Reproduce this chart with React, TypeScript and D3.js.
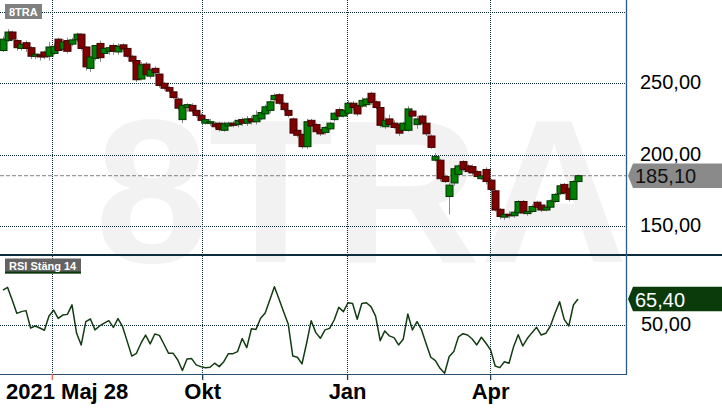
import { useEffect, useRef } from "react"
import * as d3 from "d3"

const symbol = "8TRA"
const rsiTitle = "RSI Stäng 14"
const startLabel = "2021 Maj 28"

// one candle per two sessions, 2021-05-28 .. 2022-05-27
const opens = [
  273, 280, 286, 280, 274.5, 278.5, 275, 269, 270, 272,
  269, 271, 281, 274, 280, 277.5, 280.5, 284.5, 275.5, 260.5,
  267.5, 278, 271, 272.5, 276.5, 272, 277, 274.5, 269, 266,
  253, 263.5, 255, 260.5, 256.5, 250, 247, 244, 239, 224.5,
  233, 234.5, 231, 227.5, 222, 222, 221.5, 222, 217, 220,
  222, 221, 224.5, 222, 225, 223, 225, 228.5, 231, 238.5,
  242, 236, 231, 225, 217, 214, 205.5, 224, 221, 217.5,
  215.5, 218, 224.5, 231.5, 227, 229, 236, 234.5, 234, 235,
  243, 237, 233, 219.5, 225, 222, 221, 217, 217, 230.5,
  221, 227, 222, 213, 196, 196, 184.5, 170.5, 180, 186,
  195, 192, 191.5, 188, 183, 189.5, 182, 174.5, 161.5, 156,
  158, 157, 159, 167, 158.5, 160, 166.5, 164.5, 161, 163,
  167, 172.5, 179, 176, 168.5, 181,
]
const closes = [
  281, 286, 281, 275, 277.5, 274.5, 269, 270.5, 268.5, 268.5,
  275.5, 276, 273, 279, 272.5, 280.5, 284.5, 274.5, 261.5, 268.5,
  276.5, 268, 274.5, 275, 272.5, 276, 274, 269, 265.5, 252.5,
  263, 256, 259.5, 257.5, 248.5, 246.5, 244.5, 240, 232.5, 234.5,
  235, 230.5, 227.5, 224, 224.5, 223, 219.5, 217.5, 221.5, 222,
  220.5, 224, 222, 225, 223, 227.5, 229.5, 233.5, 237, 241.5,
  236, 231.5, 227.5, 215, 213.5, 205.5, 223, 220, 216, 214.5,
  219, 222, 229, 227, 231, 236, 233, 228.5, 238, 239,
  236.5, 233, 220.5, 224, 221, 219, 215, 222, 232, 227,
  225, 222, 214.5, 205, 198.5, 183, 181, 178.5, 190, 192,
  189.5, 188, 187, 184.5, 185, 181, 175.5, 161, 156.5, 158,
  157, 159.5, 167, 159, 160, 163.5, 163, 161, 163, 167.5,
  172, 178, 173, 168.5, 181, 185.1,
]
const highs = [
  283, 288, 287, 281, 279, 280, 276, 272, 272, 273,
  279, 278, 282, 281, 282, 282, 285.5, 285, 276, 270,
  277, 280, 275, 277, 278, 278, 278, 276, 270, 267,
  265, 265, 261, 262, 258, 251, 248, 245, 240, 237,
  236, 236, 232, 229, 226, 225, 223, 223, 223, 223,
  223.5, 225, 226, 227, 227, 231, 231, 235, 238, 243,
  243, 237, 232, 226, 218, 215, 225, 225, 222, 218,
  220, 223, 230, 233, 232, 238, 237.5, 236, 240, 240,
  244, 238, 234, 226, 228, 224, 222, 223, 234, 232,
  227, 228, 223, 214, 201, 197, 186, 180, 191, 193,
  196, 193, 193, 189, 186, 191, 183, 175.5, 162.5, 159,
  160, 161, 168, 168, 161, 165, 167.5, 166, 164, 168.5,
  173, 179.5, 180, 177, 182, 186,
]
const lows = [
  272, 279, 280, 273, 273, 272, 267, 267, 266, 267,
  266, 270, 271, 272, 271, 276, 279, 273, 259, 258,
  266, 265, 269, 270, 270, 270, 272, 268, 264, 251,
  252, 255, 253, 255, 247, 245, 243, 239, 231, 222,
  230, 229, 226, 222, 221, 220, 218, 216, 216, 218,
  219, 219, 220, 220, 221, 221, 224, 227, 229, 237,
  235, 230, 226, 213, 212, 204, 204, 218, 215, 213,
  214, 217, 223, 226, 226, 228, 231, 227, 233, 233,
  235, 232, 219, 218, 220, 218, 213, 215, 216, 225,
  218, 221, 213, 204, 195, 181, 180, 158, 178, 185,
  188, 187, 185, 183, 182, 179, 174, 160, 154.5, 154,
  155, 155.5, 158, 158, 157, 159, 161, 159.5, 160, 162,
  166, 171.5, 172, 167, 168, 180.5,
]
const rsi = [
  70.6, 72.2, 64.8, 57, 58, 58.6, 48.4, 49.6, 48.4, 47.1,
  55.4, 58.9, 54, 56, 56.4, 62, 45.3, 38.5, 52.1, 53.7,
  47.3, 49.6, 51.3, 52.7, 48.8, 53.9, 49.2, 40.6, 32, 33.6,
  39.5, 44.3, 39.1, 44.9, 44.1, 38.9, 33.6, 33.6, 29.7, 23.5,
  30.3, 30.5, 26.8, 25.8, 25.2, 25.4, 27.8, 25.8, 28.7, 33.4,
  33.4, 34.6, 42.2, 36.9, 48, 47.6, 54.1, 57.2, 64.8, 72.6,
  65.4, 58, 50.8, 32, 31.3, 27.4, 39.5, 52.7, 45.7, 42.4,
  47.3, 48.2, 53.1, 60.5, 58, 63.2, 62.8, 53.5, 62.8, 63.2,
  60.9, 55.4, 41, 46.7, 43.8, 42.8, 38.5, 41.8, 56.6, 47.3,
  52.1, 47.3, 39.1, 31.3, 29.3, 24.8, 21.9, 31.7, 34.6, 43.2,
  45.1, 44.3, 42, 38.5, 43, 39.5, 35.6, 26.2, 25.2, 28.7,
  27.8, 37.5, 44.5, 37.9, 42.4, 45.7, 48.8, 44.3, 45.3, 49.6,
  57, 63.8, 53.5, 49.6, 61.9, 65.4,
]

const priceGrid = [150, 200, 250, 300]
const priceLabels = [150, 200, 250]
const rsiGrid = [50]
const lastPrice = 185.1
const lastRsi = 65.4
// month boundaries, in candle index units
const monthTicks = [10.6, 43.3, 74.8, 105.9]
const monthLabels = ["", "Okt", "Jan", "Apr"]

const W = 722
const H = 410
const plotRight = 627
const sepY = 255
const rsiBottom = 374
const font = "'Liberation Sans', Arial, sans-serif"
const fmt = (v: number) => v.toFixed(2).replace(".", ",")

export default function App() {
  const svgRef = useRef<SVGSVGElement>(null)

  useEffect(() => {
    if (!svgRef.current) return
    const svg = d3.select(svgRef.current)
    svg.selectAll("*").remove()
    svg.attr("font-family", font)

    const x = d3.scaleLinear().domain([0, closes.length - 1]).range([3, 578])
    const y = d3.scaleLinear().domain([150, 250]).range([225.7, 83.3])
    const yR = d3.scaleLinear().domain([50, 65.4]).range([325.3, 299])

    const defs = svg.append("defs")
    defs.append("clipPath").attr("id", "plotClip")
      .append("rect").attr("x", 0).attr("y", 0).attr("width", plotRight).attr("height", rsiBottom)
    defs.append("clipPath").attr("id", "priceClip")
      .append("rect").attr("x", 0).attr("y", 0).attr("width", plotRight).attr("height", sepY)

    // watermark
    svg.append("text")
      .attr("clip-path", "url(#plotClip)")
      .attr("x", 95).attr("y", 262)
      .attr("font-size", 204).attr("font-weight", "bold")
      .attr("fill", "#f2f2f2")
      .text(symbol)

    // grid
    const grid = svg.append("g").attr("stroke", "#0b2b3b").attr("stroke-dasharray", "1,1").attr("stroke-width", 1)
    grid.selectAll("line.h").data(priceGrid).join("line").attr("class", "h")
      .attr("x1", 0).attr("x2", plotRight)
      .attr("y1", (d) => Math.round(y(d)) + 0.5).attr("y2", (d) => Math.round(y(d)) + 0.5)
    grid.selectAll("line.r").data(rsiGrid).join("line").attr("class", "r")
      .attr("x1", 0).attr("x2", plotRight)
      .attr("y1", (d) => Math.round(yR(d)) + 0.5).attr("y2", (d) => Math.round(yR(d)) + 0.5)
    grid.selectAll("line.v").data(monthTicks).join("line").attr("class", "v")
      .attr("x1", (d) => Math.round(x(d)) + 0.5).attr("x2", (d) => Math.round(x(d)) + 0.5)
      .attr("y1", 0).attr("y2", rsiBottom)

    // last price line
    svg.append("line")
      .attr("x1", 0).attr("x2", plotRight)
      .attr("y1", y(lastPrice)).attr("y2", y(lastPrice))
      .attr("stroke", "#808080").attr("stroke-dasharray", "4,2")

    // candles
    const candles = svg.append("g").attr("clip-path", "url(#priceClip)")
      .selectAll("g").data(closes.map((c, i) => ({ i, o: opens[i], c, h: highs[i], l: lows[i] })))
      .join("g")
    candles.append("line")
      .attr("x1", (d) => Math.round(x(d.i)) + 0.5).attr("x2", (d) => Math.round(x(d.i)) + 0.5)
      .attr("y1", (d) => y(d.h)).attr("y2", (d) => y(d.l))
      .attr("stroke", "#8c8c8c")
    candles.append("rect")
      .attr("x", (d) => Math.round(x(d.i)) - 3)
      .attr("width", 7)
      .attr("y", (d) => y(Math.max(d.o, d.c)))
      .attr("height", (d) => Math.max(1.5, Math.abs(y(d.o) - y(d.c))))
      .attr("fill", (d) => (d.c >= d.o ? "#008000" : "#800000"))
      .attr("stroke", (d) => (d.c >= d.o ? "#003300" : "#400000"))
      .attr("stroke-width", 1)

    // RSI line
    const line = d3.line<number>().x((_, i) => x(i)).y((d) => yR(d))
    svg.append("path").datum(rsi)
      .attr("fill", "none").attr("stroke", "#123c12").attr("stroke-width", 1.5)
      .attr("stroke-linejoin", "round")
      .attr("d", line)

    // frame
    svg.append("line").attr("x1", 0).attr("x2", W).attr("y1", sepY).attr("y2", sepY)
      .attr("stroke", "#0d2d3d").attr("stroke-width", 2)
    svg.append("line").attr("x1", plotRight - 0.5).attr("x2", plotRight - 0.5).attr("y1", 0).attr("y2", rsiBottom)
      .attr("stroke", "#2b5b8b").attr("stroke-width", 1.3)
    svg.append("line").attr("x1", 0).attr("x2", plotRight).attr("y1", rsiBottom + 0.5).attr("y2", rsiBottom + 0.5)
      .attr("stroke", "#2b5070").attr("stroke-width", 1)

    // time axis
    const axis = svg.append("g").attr("transform", `translate(0,${rsiBottom})`)
      .call(
        d3.axisBottom(x)
          .tickValues(monthTicks)
          .tickFormat((_, i) => monthLabels[i])
          .tickSize(6)
          .tickPadding(3)
          .tickSizeOuter(0),
      )
    axis.select(".domain").remove()
    axis.selectAll(".tick line").attr("stroke", "#1b3b5b").attr("stroke-width", 1.3)
    axis.select(".tick line").attr("stroke", "#ff5a5a")
    axis.selectAll(".tick text")
      .attr("font-family", font).attr("font-size", 22).attr("font-weight", "bold").attr("fill", "#000")
    svg.append("text").attr("x", 6).attr("y", 398.5)
      .attr("font-size", 22).attr("font-weight", "bold").attr("fill", "#000")
      .text(startLabel)

    // value axis labels
    svg.selectAll("text.pl").data(priceLabels).join("text").attr("class", "pl")
      .attr("x", 640).attr("y", (d) => y(d) + 6)
      .attr("font-size", 20).attr("fill", "#000")
      .text((d) => fmt(d))
    svg.selectAll("text.rl").data(rsiGrid).join("text").attr("class", "rl")
      .attr("x", 641).attr("y", (d) => yR(d) + 6)
      .attr("font-size", 20).attr("fill", "#000")
      .text((d) => fmt(d))

    // last value tags
    const tag = (cy: number, fill: string, textFill: string, label: string) => {
      const half = 12.2
      svg.append("path")
        .attr("d", `M${plotRight + 1},${cy} L${plotRight + 6},${cy - half} L${W},${cy - half} L${W},${cy + half} L${plotRight + 6},${cy + half} Z`)
        .attr("fill", fill)
      svg.append("text").attr("x", 635).attr("y", cy + 7.5)
        .attr("font-size", 20).attr("fill", textFill)
        .text(label)
    }
    tag(y(lastPrice), "#8a8a8a", "#111", fmt(lastPrice))
    tag(yR(lastRsi), "#0b3b0b", "#fff", fmt(lastRsi))

    // panel titles
    const title = (ty: number, w: number, label: string, fill: string, underline?: string) => {
      svg.append("rect").attr("x", 5).attr("y", ty).attr("width", w).attr("height", 15).attr("fill", fill)
      if (underline) {
        svg.append("rect").attr("x", 5).attr("y", ty + 13).attr("width", w).attr("height", 2).attr("fill", underline)
      }
      svg.append("text").attr("x", 9).attr("y", ty + 11.5)
        .attr("font-size", 11).attr("font-weight", "bold").attr("fill", "#fff")
        .text(label)
    }
    title(4, 37, symbol, "#808080")
    title(258.5, 76, rsiTitle, "#636363", "#0b3b0b")
  }, [])

  return (
    <div style={{ position: "absolute", left: 0, top: 0 }}>
      <svg ref={svgRef} width={W} height={H} style={{ display: "block", background: "#fff" }} />
    </div>
  )
}
